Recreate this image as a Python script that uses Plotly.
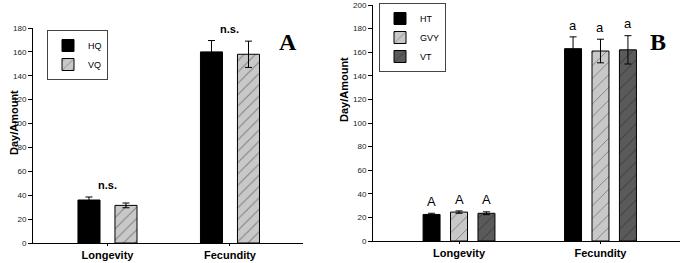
import plotly.graph_objects as go

categories = ["Longevity", "Fecundity"]

# Panel A
a_names = ["HQ", "VQ"]
a_values = [[36, 160], [31.5, 158]]
a_errors = [[2.5, 9.5], [2, 11]]
a_labels = ["n.s.", "n.s."]

# Panel B
b_names = ["HT", "GVY", "VT"]
b_values = [[22.5, 163], [24.5, 161], [23.5, 162]]
b_errors = [[1, 10], [1, 10], [1.2, 12]]
b_letters = [["A", "a"], ["A", "a"], ["A", "a"]]

W, H = 685, 263

def px(x):
    return x / W

def py(y):
    return 1 - y / H

fig = go.Figure()

a_styles = [
    dict(color="black", pattern=dict(shape="")),
    dict(color="#c8c8c8", pattern=dict(shape="/", fgcolor="#333333", bgcolor="#c8c8c8", size=8, solidity=0.12)),
]
a_offsets = [-0.241, 0.061]
for i, name in enumerate(a_names):
    fig.add_trace(go.Bar(
        x=categories, y=a_values[i], name=name,
        error_y=dict(type="data", array=a_errors[i], color="black", thickness=1, width=3.5),
        marker=dict(color=a_styles[i]["color"], pattern=a_styles[i]["pattern"],
                    line=dict(color="black", width=1)),
        width=0.18, offset=a_offsets[i],
        xaxis="x", yaxis="y", legend="legend",
    ))

b_styles = [
    dict(color="black", pattern=dict(shape="")),
    dict(color="#c8c8c8", pattern=dict(shape="/", fgcolor="#333333", bgcolor="#c8c8c8", size=9, solidity=0.1)),
    dict(color="#5a5a5a", pattern=dict(shape="/", fgcolor="#111111", bgcolor="#5a5a5a", size=9, solidity=0.1)),
]
b_offsets = [-0.254, -0.06, 0.134]
for i, name in enumerate(b_names):
    fig.add_trace(go.Bar(
        x=categories, y=b_values[i], name=name,
        error_y=dict(type="data", array=b_errors[i], color="black", thickness=1, width=3.5),
        marker=dict(color=b_styles[i]["color"], pattern=b_styles[i]["pattern"],
                    line=dict(color="black", width=1)),
        width=0.12, offset=b_offsets[i],
        xaxis="x2", yaxis="y2", legend="legend2",
    ))

annotations = []
# n.s. labels panel A
for j, cat in enumerate(categories):
    top = max(a_values[k][j] + a_errors[k][j] for k in range(len(a_names)))
    annotations.append(dict(x=j, y=top + 3, xref="x", yref="y", text="<b>n.s.</b>",
                            showarrow=False, yanchor="bottom",
                            font=dict(family="Arial, Liberation Sans", size=11, color="black")))
# letters panel B
b_centers = [-0.194, 0.0, 0.194]
for i in range(len(b_names)):
    for j, cat in enumerate(categories):
        annotations.append(dict(x=j + b_centers[i], y=b_values[i][j] + b_errors[i][j] + 2,
                                xref="x2", yref="y2", text=b_letters[i][j],
                                showarrow=False, yanchor="bottom",
                                font=dict(family="Arial, Liberation Sans", size=13, color="black")))
# panel letters
annotations.append(dict(x=px(288), y=py(27), xref="paper", yref="paper", text="<b>A</b>",
                        showarrow=False, font=dict(family="Liberation Serif", size=24, color="black")))
annotations.append(dict(x=px(668), y=py(27), xref="paper", yref="paper", text="<b>B</b>",
                        showarrow=False, font=dict(family="Liberation Serif", size=24, color="black")))
# y titles
annotations.append(dict(x=px(6), y=py(123), xref="paper", yref="paper", text="<b>Day/Amount</b>",
                        textangle=-90, showarrow=False,
                        font=dict(family="Arial, Liberation Sans", size=11, color="black")))
annotations.append(dict(x=px(344), y=py(90), xref="paper", yref="paper", text="<b>Day/Amount</b>",
                        textangle=-90, showarrow=False,
                        font=dict(family="Arial, Liberation Sans", size=11, color="black")))

tickfont = dict(family="Arial, Liberation Sans", size=8, color="#222")
catfont = dict(family="Arial, Liberation Sans", size=11, color="black")

common_x = dict(showline=True, linecolor="black", linewidth=1,
                ticks="outside", ticklen=2, tickcolor="black",
                tickfont=catfont, ticklabelstandoff=0, automargin=False,
                tickvals=categories, ticktext=["<b>%s</b>" % c for c in categories],
                showgrid=False, zeroline=False)
common_y = dict(showline=True, linecolor="black", linewidth=1,
                ticks="outside", ticklen=4, tickcolor="black", dtick=20,
                tickfont=tickfont, showgrid=False, zeroline=False, automargin=False)

legend_font = dict(family="Arial, Liberation Sans", size=9, color="black")

fig.update_layout(
    width=W, height=H,
    margin=dict(l=0, r=0, t=0, b=0, pad=0),
    paper_bgcolor="white", plot_bgcolor="white",
    barmode="overlay",
    annotations=annotations,
    xaxis=dict(domain=[px(33), px(303)], anchor="y", range=[-0.608, 1.596], **common_x),
    yaxis=dict(domain=[py(243), py(28)], anchor="x", range=[0, 180], **common_y),
    xaxis2=dict(domain=[px(373), px(680)], anchor="y2", range=[-0.608, 1.562], **common_x),
    yaxis2=dict(domain=[py(241), py(5)], anchor="x2", range=[0, 200], **common_y),
    legend=dict(x=px(47), y=py(30), xanchor="left", yanchor="top",
                bgcolor="white", bordercolor="#444", borderwidth=1,
                font=legend_font, tracegroupgap=0, itemwidth=30),
    legend2=dict(x=px(379), y=py(3), xanchor="left", yanchor="top",
                 bgcolor="white", bordercolor="#444", borderwidth=1,
                 font=legend_font, tracegroupgap=0, itemwidth=30),
    showlegend=True,
)

fig.write_html("out.html",
               config={"displayModeBar": False},
               post_script="document.body.style.margin='0';document.body.style.padding='0';document.body.style.overflow='hidden';")
